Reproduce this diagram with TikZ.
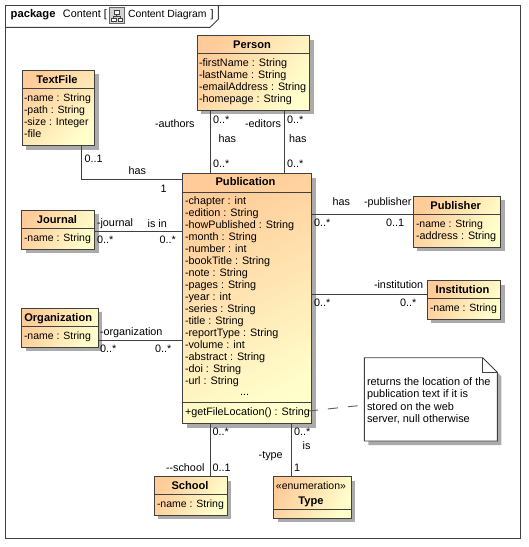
\documentclass[tikz,border=0pt]{standalone}
\usepackage{fontspec}
\setmainfont{Liberation Sans}
\usetikzlibrary{shadows,calc}
\definecolor{linec}{HTML}{404040}
\definecolor{gradA}{HTML}{FFCC99}
\definecolor{gradB}{HTML}{FFFFCC}
\definecolor{shadc}{HTML}{ABABAB}
\newcommand{\umlfont}{\fontsize{10.8}{12}\selectfont}
\newcommand{\umlbold}{\fontsize{11.1}{12}\selectfont\bfseries}
\newcommand{\notefont}{\fontsize{10.95}{12}\selectfont}
\newcommand{\namefont}{\fontsize{10.5}{12}\selectfont}
\tikzset{
  x=1pt,y=-1pt,
  conn/.style={draw=linec,line width=0.9pt},
  lab/.style={anchor=base west,inner sep=0pt,outer sep=0pt,font=\umlfont,text=black},
  notelab/.style={lab,font=\notefont},
  namelab/.style={lab,font=\namefont},
  ttl/.style={anchor=base,inner sep=0pt,outer sep=0pt,font=\umlbold,text=black},
  umlshadow/.style={drop shadow={shadow xshift=4pt,shadow yshift=-4pt,opacity=1,fill=shadc}},
}
% name, x1, y1, x2, y2, separator y
\newcommand{\umlbox}[6]{%
  \pgfmathsetmacro{\boxw}{#4-#2}\pgfmathsetmacro{\boxh}{#5-#3}%
  \pgfmathsetmacro{\boxa}{atan2(\boxw,\boxh)}%
  \node[umlshadow,draw=linec,line width=0.9pt,top color=gradA,bottom color=gradB,shading angle=\boxa,
        anchor=north west,inner sep=0pt,outer sep=0pt,minimum width=\boxw pt,minimum height=\boxh pt]
        (#1) at (#2,#3) {};
  \coordinate (#1sep) at (#2,#6);
  \draw[conn] (#1sep) -- (#1sep -| #1.east);
}
\begin{document}
\begin{tikzpicture}
\useasboundingbox (0,0) rectangle (529,547);
\fill[white] (0,0) rectangle (529,547);

% frame
\node[draw=linec,line width=0.9pt,inner sep=0pt,outer sep=0pt,anchor=north west,minimum width=515pt,minimum height=533pt] (frame) at (5.7,5.3) {};
\draw[conn] (5.7,27.3) -- (210,27.3) -- (218.3,19.3) -- (218.3,5.3);
\node[lab,font=\umlbold,scale=1.01] (hpkg) at (10.7,17.3) {package};
\node[lab] (hname) at (63,17.3) {Content [};
\node[lab,font=\fontsize{10.4}{12}\selectfont] (hdiag) at (128,17.3) {Content Diagram};
\node[lab] (hbr) at (210.7,17.3) {]};
% diagram icon
\fill[gray!35,draw=gray!80!black,line width=0.6pt] (109.5,7.5) rectangle (124.7,23.5);
\fill[white,draw=linec,line width=0.5pt] (114,10) rectangle (119.5,14);
\fill[white,draw=linec,line width=0.5pt] (111.5,18) rectangle (116,21.5);
\fill[white,draw=linec,line width=0.5pt] (118,18) rectangle (122.7,21.5);
\draw[linec,line width=0.5pt] (116.7,14) -- (116.7,16) (113.7,18) -- (113.7,16) -- (120.3,16) -- (120.3,18);

% boxes
\umlbox{person}{197}{35.5}{309.5}{110}{53}
\umlbox{textfile}{22}{70}{94.5}{145.5}{88.5}
\umlbox{pub}{182.5}{173.5}{311.5}{423.5}{192}
\draw[conn] (182.5,402.7) -- (311.5,402.7);
\umlbox{publisher}{413.3}{196.3}{500.7}{247.3}{214.3}
\umlbox{inst}{427.3}{280.7}{500.7}{319.3}{298.3}
\umlbox{journal}{21.5}{210.3}{94.5}{249.3}{228.3}
\umlbox{org}{21.5}{308.3}{98}{347.3}{326.3}
\umlbox{school}{154.3}{476.7}{227.3}{515.3}{494.7}
\umlbox{type}{273.7}{476.7}{351.3}{518}{509.3}

% note
\fill[shadc] (368.3,361.7) -- (486.7,361.7) -- (501.3,376.3) -- (501.3,445) -- (368.3,445) -- cycle;
\node[draw=none,fill=none,inner sep=0pt,outer sep=0pt,anchor=north west,minimum width=133pt,minimum height=83.3pt] (note) at (364.3,357.7) {};
\draw[conn,fill=white] (364.3,357.7) -- (482.7,357.7) -- (497.3,372.3) -- (497.3,441) -- (364.3,441) -- cycle;
\draw[conn] (482.7,357.7) -- (482.7,372.3) -- (497.3,372.3);
\node[notelab] (n1) at (367,385) {returns the location of the};
\node[notelab] (n2) at (367,397.5) {publication text if it is};
\node[notelab] (n3) at (367,410) {stored on the web};
\node[notelab] (n4) at (367,422.7) {server, null otherwise};

% connector anchors
\coordinate (cTFx) at (81.7,179.3);
\coordinate (cAx) at (210.5,0);
\coordinate (cEx) at (284.3,0);
\coordinate (cPy) at (0,214.3);
\coordinate (cIy) at (0,294.3);
\coordinate (cJy) at (0,231.7);
\coordinate (cOy) at (0,340.3);
\coordinate (cSx) at (210.7,0);
\coordinate (cTx) at (291.3,0);
\coordinate (cNote) at (308,411.1);
\coordinate (cNoteY) at (0,405);

\draw[conn] (textfile.south -| cTFx) -- (cTFx) -- (pub.west |- cTFx);
\draw[conn] (person.south -| cAx) -- (pub.north -| cAx);
\draw[conn] (person.south -| cEx) -- (pub.north -| cEx);
\draw[conn] (pub.east |- cPy) -- (publisher.west |- cPy);
\draw[conn] (pub.east |- cIy) -- (inst.west |- cIy);
\draw[conn] (journal.east |- cJy) -- (pub.west |- cJy);
\draw[conn] (org.east |- cOy) -- (pub.west |- cOy);
\draw[conn] (pub.south -| cSx) -- (school.north -| cSx);
\draw[conn] (pub.south -| cTx) -- (type.north -| cTx);
\draw[draw=linec!85,line width=0.9pt,dash pattern=on 10pt off 10pt] (cNote) -- (note.west |- cNoteY);

% titles
\node[ttl] (t1) at (252,48) {Person};
\node[ttl] (t2) at (57,83) {TextFile};
\node[ttl] (t3) at (245.5,185.3) {Publication};
\node[ttl] (t4) at (455.7,209) {Publisher};
\node[ttl] (t5) at (462.5,293) {Institution};
\node[ttl] (t6) at (57,223) {Journal};
\node[ttl] (t7) at (58.2,321.3) {Organization};
\node[ttl] (t8) at (190,489) {School};
\node[ttl] (t9) at (311,504) {Type};
\node[anchor=base,inner sep=0pt,font=\fontsize{10.5}{12}\selectfont] (t9s) at (311,489) {«enumeration»};

% attributes
\node[lab] (a1) at (199,66) {-firstName : String};
\node[lab] (a2) at (199,78) {-lastName : String};
\node[lab] (a3) at (199,90) {-emailAddress : String};
\node[lab] (a4) at (199,102) {-homepage : String};
\node[namelab] (b1) at (24,101) {-name : String};
\node[namelab] (b2) at (24,113) {-path : String};
\node[namelab] (b3) at (24,125) {-size : Integer};
\node[lab] (b4) at (24,137) {-file};
\node[lab] (p1) at (185,204) {-chapter : int};
\node[lab] (p2) at (185,216) {-edition : String};
\node[lab] (p3) at (185,228) {-howPublished : String};
\node[lab] (p4) at (185,240) {-month : String};
\node[lab] (p5) at (185,252) {-number : int};
\node[lab] (p6) at (185,264) {-bookTitle : String};
\node[lab] (p7) at (185,276) {-note : String};
\node[lab] (p8) at (185,288) {-pages : String};
\node[lab] (p9) at (185,300) {-year : int};
\node[lab] (p10) at (185,312) {-series : String};
\node[lab] (p11) at (185,324) {-title : String};
\node[lab] (p12) at (185,336) {-reportType : String};
\node[lab] (p13) at (185,348) {-volume : int};
\node[lab] (p14) at (185,360) {-abstract : String};
\node[lab] (p15) at (185,372) {-doi : String};
\node[lab] (p16) at (185,384) {-url : String};
\node[anchor=base,inner sep=0pt,font=\umlfont] (p17) at (244.7,395.7) {...};
\node[lab] (p18) at (185,415) {+getFileLocation() : String};
\node[namelab] (c1) at (416,227.3) {-name : String};
\node[lab] (c2) at (416,239.3) {-address : String};
\node[namelab] (d1) at (430,311.3) {-name : String};
\node[namelab] (e1) at (24,241.3) {-name : String};
\node[namelab] (f1) at (24,339.3) {-name : String};
\node[namelab] (g1) at (157,507.3) {-name : String};

% association labels
\node[lab] (x1) at (155,127) {-authors};
\node[lab] (x2) at (213,123) {0..*};
\node[lab] (x3) at (218.7,142) {has};
\node[lab] (x4) at (213,167.7) {0..*};
\node[lab] (x5) at (245,127) {-editors};
\node[lab] (x6) at (287,123) {0..*};
\node[lab] (x7) at (289,142) {has};
\node[lab] (x8) at (287,167.7) {0..*};
\node[lab] (x9) at (84.7,162.3) {0..1};
\node[lab] (x10) at (128.7,174) {has};
\node[lab] (x11) at (160.7,192) {1};
\node[lab] (x12) at (332.7,205.7) {has};
\node[lab] (x13) at (364,205.7) {-publisher};
\node[lab] (x14) at (314,226.3) {0..*};
\node[lab] (x15) at (386,226.3) {0..1};
\node[lab] (x16) at (374,288.7) {-institution};
\node[lab] (x17) at (314,306) {0..*};
\node[lab] (x18) at (400,306) {0..*};
\node[lab] (x19) at (97,226) {-journal};
\node[lab] (x20) at (147.7,227) {is in};
\node[lab] (x21) at (97,243.3) {0..*};
\node[lab] (x22) at (159.7,243.3) {0..*};
\node[lab] (x23) at (100,335) {-organization};
\node[lab] (x24) at (100,352.7) {0..*};
\node[lab] (x25) at (155,352.7) {0..*};
\node[lab] (x26) at (212.7,435.3) {0..*};
\node[lab] (x27) at (166,471) {-{}-school};
\node[lab] (x28) at (212.7,471) {0..1};
\node[lab] (x29) at (294,435.3) {0..*};
\node[lab] (x30) at (302.7,449.3) {is};
\node[lab] (x31) at (258.7,458) {-type};
\node[lab] (x32) at (294,471) {1};
\end{tikzpicture}
\end{document}
